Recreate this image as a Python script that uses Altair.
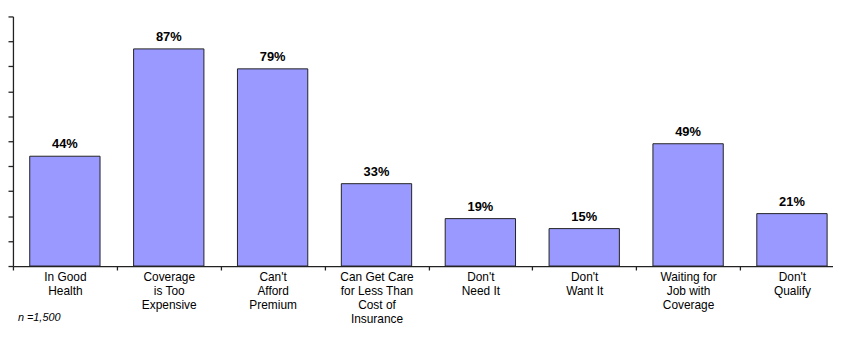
import altair as alt
import pandas as pd

categories = [
    "In Good|Health",
    "Coverage|is Too|Expensive",
    "Can't|Afford|Premium",
    "Can Get Care|for Less Than|Cost of|Insurance",
    "Don't|Need It",
    "Don't|Want It",
    "Waiting for|Job with|Coverage",
    "Don't|Qualify",
]
values = [44, 87, 79, 33, 19, 15, 49, 21]
value_labels = [f"{v}%" for v in values]
y_ticks = list(range(0, 101, 10))
note = "n =1,500"

df = pd.DataFrame({"cat": categories, "val": values, "lab": value_labels})

FONT = "Liberation Sans"

x = alt.X(
    "cat:N",
    sort=categories,
    title=None,
    scale=alt.Scale(paddingInner=0, paddingOuter=0, range=[0, 839]),
    axis=alt.Axis(
        labelExpr="split(datum.label, '|')",
        labelAngle=0,
        labelFont=FONT,
        labelFontSize=12,
        labelLineHeight=14,
        labelColor="#000000",
        labelPadding=2,
        tickBand="extent",
        tickSize=4,
        tickWidth=1.3,
        tickColor="#222222",
        domainColor="#222222",
        domainWidth=1.3,
        labelLimit=200,
    ),
)
y = alt.Y(
    "val:Q",
    title=None,
    scale=alt.Scale(domain=[0, 100], nice=False),
    axis=alt.Axis(
        values=y_ticks,
        labels=False,
        grid=False,
        tickSize=5,
        tickWidth=1.3,
        tickColor="#222222",
        domainColor="#222222",
        domainWidth=1.3,
    ),
)

bars = alt.Chart(df).mark_bar(
    width=alt.RelativeBandSize(0.677),
    color="#9999FF",
    stroke="#222222",
    strokeWidth=1,
).encode(x=x, y=y)

texts = alt.Chart(df).mark_text(
    baseline="bottom",
    dy=-5,
    font=FONT,
    fontSize=13,
    fontWeight="bold",
    color="#000000",
).encode(x=x, y=y, text="lab:N")

note_layer = alt.Chart(pd.DataFrame({"t": [note]})).mark_text(
    align="left",
    baseline="alphabetic",
    font=FONT,
    fontSize=11,
    fontStyle="italic",
    color="#000000",
).encode(x=alt.value(5), y=alt.value(307), text="t:N")

chart = (
    alt.layer(bars, texts, note_layer)
    .properties(
        width=828,
        height=252,
        autosize=alt.AutoSizeParams(type="none"),
        padding={"left": 5, "top": 7, "right": 0, "bottom": 58},
    )
    .configure_view(stroke=None)
)

chart.save("out.html", embed_options={"renderer": "svg", "actions": False})
